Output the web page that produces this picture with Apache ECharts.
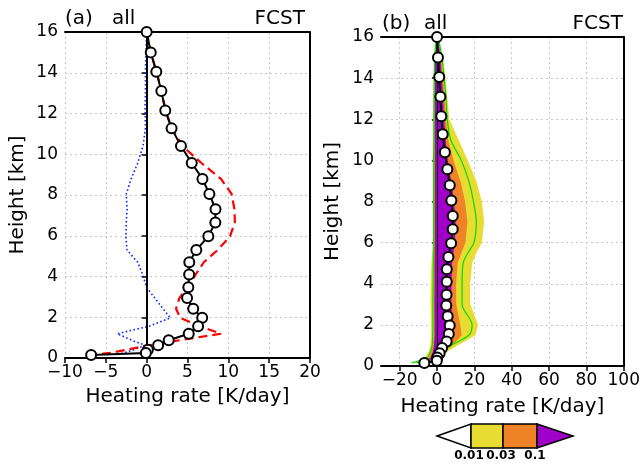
<!DOCTYPE html>
<html>
<head>
<meta charset="UTF-8">
<title>Heating rate profiles</title>
<script src="https://cdn.jsdelivr.net/npm/echarts@6/dist/echarts.min.js"></script>
<style>
  html, body { margin: 0; padding: 0; background: #fff; }
  #chart { width: 643px; height: 464px; }
</style>
</head>
<body>
<div id="chart"></div>
<script type="text/javascript">
// model levels [km] and profiles of panel (a)
var heights = [16.0, 15.0, 14.05, 13.1, 12.15, 11.27, 10.4, 9.57, 8.79, 8.05, 7.3, 6.65, 5.97, 5.3, 4.7, 4.1, 3.47, 2.94, 2.42, 1.97, 1.56, 1.19, 0.87, 0.62, 0.41, 0.25, 0.15];
var fcstAll = [0, 0.5, 1.18, 1.8, 2.28, 3.05, 4.2, 5.52, 6.83, 7.68, 8.43, 8.41, 7.55, 6.08, 5.22, 5.2, 5.1, 4.95, 5.7, 6.8, 6.3, 5.15, 2.7, 1.4, 0.15, -0.1, -6.8];
var redDash = [0, 0.5, 1.2, 1.85, 2.3, 3.1, 4.4, 6.7, 9.1, 10.4, 10.75, 10.8, 10.2, 8.7, 7.0, 6.0, 5.0, 4.0, 3.6, 4.1, 6.5, 9.1, 4.0, 0.2, -2.4, -4.5, -6.6];
var blueDot = [0, -0.1, -0.15, -0.15, -0.2, -0.15, -0.45, -1.1, -1.9, -2.5, -2.4, -2.5, -2.55, -2.4, -1.1, -0.5, 0.0, 1.0, 2.0, 2.9, 0.3, -3.6, -1.8, -0.2, -1.5, -2.8, -3.9];

// panel (b): frequency shading edges
var heightsB = [16, 15, 14, 13, 12, 11, 10, 9, 8, 7, 6, 5.5, 5, 4, 3, 2, 1.5, 1, 0.7, 0.4, 0.15];
var yellowL = [-0.5, -1.4, -1.8, -2.0, -2.1, -2.2, -2.3, -2.3, -2.3, -2.3, -2.3, -2.6, -3.0, -3.4, -3.5, -3.2, -3.2, -3.6, -4.5, -6.5, -13.5];
var yellowR = [0.8, 3.2, 4.6, 5.6, 6.6, 11.5, 16.5, 21.0, 24.0, 25.2, 24.0, 21.0, 18.8, 17.8, 17.8, 22.0, 20.5, 11.0, 5.5, 1.5, -8];
var orangeL = [-0.4, -1.1, -1.3, -1.4, -1.5, -1.5, -1.5, -1.5, -1.5, -1.5, -1.5, -1.6, -1.7, -1.8, -1.9, -1.8, -1.8, -2.2, -3, -4.5, -10];
var orangeR = [0.7, 2.2, 3.3, 4.2, 4.8, 6.0, 8.8, 12.5, 15.0, 16.3, 15.2, 13.0, 11.0, 10.2, 10.3, 12.5, 13.2, 8.0, 3.8, 1.0, -6];
var purpleL = [-0.3, -1.0, -1.1, -1.2, -1.2, -1.2, -1.2, -1.2, -1.2, -1.2, -1.2, -1.2, -1.3, -1.3, -1.4, -1.3, -1.3, -1.6, -2.2, -3.5, -8];
var purpleR = [0.5, 1.8, 2.6, 3.3, 3.8, 4.6, 5.8, 7.5, 9.2, 10.0, 9.6, 8.8, 8.0, 7.8, 7.6, 8.3, 8.2, 6.0, 3.0, 0.5, -6];
var greenL = [-0.4, -1.3, -1.5, -1.6, -1.7, -1.7, -1.8, -1.8, -1.8, -1.8, -1.8, -1.9, -2.0, -2.1, -2.2, -2.2, -2.3, -2.6, -3.5, -5.5, -13.5];
var greenR = [0.6, 2.6, 3.8, 4.8, 5.5, 7.3, 13.0, 17.0, 19.5, 21.0, 19.8, 16.5, 14.0, 13.4, 13.4, 18.8, 17.0, 7.5, 3.2, 0.5, -11];

var xTicksB = [-20, 0, 20, 40, 60, 80, 100];
var cbarLabels = ['0.01', '0.03', '0.1'];
var cbarColors = ['#ffffff', '#e6dc32', '#f08228', '#a000c8'];

var FONT = '"DejaVu Sans", "Liberation Sans", sans-serif';

function pairs(xs, hs) {
    var out = [];
    for (var i = 0; i < xs.length; i++) out.push([xs[i], hs[i]]);
    return out;
}
function fmt(v) {
    return v < 0 ? '\u2212' + Math.abs(v) : '' + v;
}

function band(left, right, color) {
    return {
        type: 'custom',
        xAxisIndex: 1,
        yAxisIndex: 1,
        silent: true,
        z: 1,
        data: [[0, 0]],
        renderItem: function (params, api) {
            var pts = [];
            for (var i = 0; i < heightsB.length; i++) pts.push(api.coord([left[i], heightsB[i]]));
            for (var j = heightsB.length - 1; j >= 0; j--) pts.push(api.coord([right[j], heightsB[j]]));
            return {type: 'polygon', shape: {points: pts}, style: {fill: color, stroke: null}};
        }
    };
}

function xAxisCommon(idx) {
    return {
        gridIndex: idx,
        type: 'value',
        name: 'Heating rate [K/day]',
        nameLocation: 'middle',
        nameGap: 29,
        nameTextStyle: {color: '#000', fontSize: 20, fontFamily: FONT},
        axisLine: {lineStyle: {color: '#000', width: 2}},
        axisTick: {show: true, length: 5, lineStyle: {color: '#000', width: 1.5}},
        axisLabel: {color: '#000', fontSize: 17, fontFamily: FONT, margin: 6, formatter: fmt},
        splitLine: {show: true, lineStyle: {color: '#c8c8c8', type: [2, 3], width: 1}}
    };
}
function yAxisCommon(idx) {
    return {
        gridIndex: idx,
        type: 'value',
        min: 0,
        max: 16,
        interval: 2,
        name: 'Height [km]',
        nameLocation: 'middle',
        nameGap: 37,
        nameRotate: 90,
        nameTextStyle: {color: '#000', fontSize: 20, fontFamily: FONT},
        axisLine: {lineStyle: {color: '#000', width: 2}},
        axisTick: {show: true, length: 5, lineStyle: {color: '#000', width: 1.5}},
        axisLabel: {color: '#000', fontSize: 17, fontFamily: FONT, margin: 7},
        splitLine: {show: true, lineStyle: {color: '#c8c8c8', type: [2, 3], width: 1}}
    };
}
// plain frame lines on top / right
function frameAxis(idx, pos, min, max) {
    return {
        gridIndex: idx, type: 'value', position: pos, min: min, max: max,
        axisLine: {show: true, onZero: false, lineStyle: {color: '#000', width: 2}},
        axisTick: {show: false}, axisLabel: {show: false}, splitLine: {show: false}
    };
}

var xa = xAxisCommon(0);
xa.min = -10; xa.max = 20; xa.interval = 5;
var xb = xAxisCommon(1);
xb.min = -30; xb.max = 100;
xb.axisTick.customValues = xTicksB;
xb.axisLabel.customValues = xTicksB;
xb.nameGap = 31;
var ya = yAxisCommon(0);
var yb = yAxisCommon(1);
yb.nameGap = 38;

var zeroLine = {
    silent: true,
    symbol: 'none',
    label: {show: false},
    lineStyle: {color: '#000', width: 1, type: 'solid'},
    data: [{xAxis: 0}]
};

var cbY0 = 424, cbY1 = 448, cbMid = 436;
var cbX = [437, 471, 503, 537, 573];

var graphics = [
    {type: 'text', left: 65, top: 9, style: {text: '(a)', font: '20px ' + FONT, fill: '#000'}},
    {type: 'text', left: 112, top: 9, style: {text: 'all', font: '20px ' + FONT, fill: '#000'}},
    {type: 'text', right: 338, top: 9, style: {text: 'FCST', font: '20px ' + FONT, fill: '#000'}},
    {type: 'text', left: 382, top: 14, style: {text: '(b)', font: '20px ' + FONT, fill: '#000'}},
    {type: 'text', left: 424, top: 14, style: {text: 'all', font: '20px ' + FONT, fill: '#000'}},
    {type: 'text', right: 20, top: 14, style: {text: 'FCST', font: '20px ' + FONT, fill: '#000'}},
    // colour bar
    {type: 'polygon', shape: {points: [[cbX[0], cbMid], [cbX[1], cbY0], [cbX[1], cbY1]]},
        style: {fill: cbarColors[0], stroke: '#000', lineWidth: 1.5}},
    {type: 'rect', shape: {x: cbX[1], y: cbY0, width: cbX[2] - cbX[1], height: cbY1 - cbY0},
        style: {fill: cbarColors[1], stroke: '#000', lineWidth: 1.5}},
    {type: 'rect', shape: {x: cbX[2], y: cbY0, width: cbX[3] - cbX[2], height: cbY1 - cbY0},
        style: {fill: cbarColors[2], stroke: '#000', lineWidth: 1.5}},
    {type: 'polygon', shape: {points: [[cbX[3], cbY0], [cbX[4], cbMid], [cbX[3], cbY1]]},
        style: {fill: cbarColors[3], stroke: '#000', lineWidth: 1.5}}
];
for (var k = 0; k < cbarLabels.length; k++) {
    graphics.push({type: 'text', x: cbX[k + 1] - 2, y: 450,
        style: {text: cbarLabels[k], font: 'bold 12px ' + FONT, fill: '#000', align: 'center', verticalAlign: 'top'}});
}

var myChart = echarts.init(document.getElementById('chart'), null, {renderer: 'canvas'});
var option = {
    backgroundColor: '#fff',
    animation: false,
    grid: [
        {left: 65, top: 32, width: 245, height: 326},
        {left: 381, top: 37, width: 247, height: 329}
    ],
    xAxis: [xa, xb, frameAxis(0, 'top', -10, 20), frameAxis(1, 'top', -30, 100)],
    yAxis: [ya, yb, frameAxis(0, 'right', 0, 16), frameAxis(1, 'right', 0, 16)],
    graphic: graphics,
    series: [
        // (a)
        {type: 'line', xAxisIndex: 0, yAxisIndex: 0, z: 2, data: pairs(blueDot, heights), symbol: 'none',
            lineStyle: {color: '#0a28ff', width: 1.6, type: [1.6, 2.4]}, markLine: zeroLine},
        {type: 'line', xAxisIndex: 0, yAxisIndex: 0, z: 3, data: pairs(redDash, heights), symbol: 'none',
            lineStyle: {color: '#ff0000', width: 2.2, type: [9, 5]}},
        {type: 'line', xAxisIndex: 0, yAxisIndex: 0, z: 5, data: pairs(fcstAll, heights),
            symbol: 'circle', symbolSize: 10,
            lineStyle: {color: '#000', width: 2},
            itemStyle: {color: '#fff', borderColor: '#000', borderWidth: 2}},
        // (b)
        band(yellowL, yellowR, cbarColors[1]),
        band(orangeL, orangeR, cbarColors[2]),
        band(purpleL, purpleR, cbarColors[3]),
        {type: 'line', xAxisIndex: 1, yAxisIndex: 1, z: 2, data: pairs(greenL, heightsB), symbol: 'none', smooth: 0.3,
            lineStyle: {color: '#00dc00', width: 1.2}, markLine: zeroLine},
        {type: 'line', xAxisIndex: 1, yAxisIndex: 1, z: 2, data: pairs(greenR, heightsB), symbol: 'none', smooth: 0.3,
            lineStyle: {color: '#00dc00', width: 1.2}},
        {type: 'line', xAxisIndex: 1, yAxisIndex: 1, z: 5, data: pairs(fcstAll, heights),
            symbol: 'circle', symbolSize: 10,
            lineStyle: {color: '#000', width: 2},
            itemStyle: {color: '#fff', borderColor: '#000', borderWidth: 2}}
    ]
};
myChart.setOption(option);
window.onresize = myChart.resize;
</script>
</body>
</html>
